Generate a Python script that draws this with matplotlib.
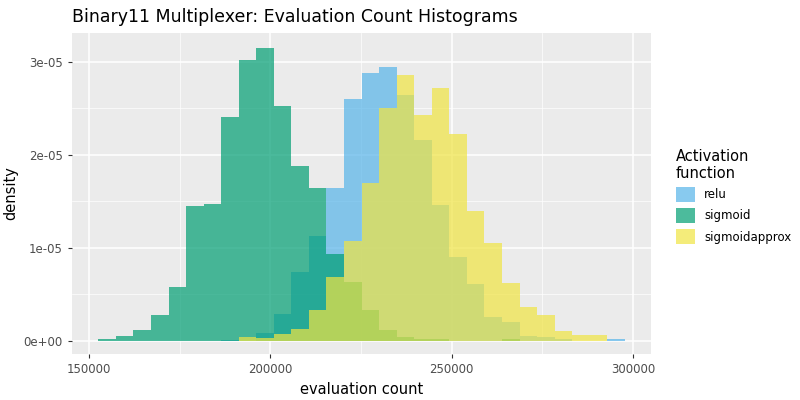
import numpy as np
import matplotlib
matplotlib.use("Agg")
import matplotlib.pyplot as plt
from matplotlib.patches import Patch

start = 152570
binw = 4840
relu = [0,0,0,0,0,0,0,0.01,0,0.086,0.29,0.74,1.13,1.64,2.60,2.88,2.94,2.64,2.16,1.46,0.90,0.61,0.26,0.20,0.054,0.043,0.02,0,0,0.02]
sigmoid = [0.021,0.047,0.12,0.28,0.58,1.45,1.475,2.41,3.02,3.15,2.53,1.88,1.64,0.93,0.63,0.33,0.12,0.043,0.02,0.02,0,0,0,0.02,0,0,0,0,0,0]
sigapprox = [0,0,0,0,0,0,0,0,0.043,0.03,0.075,0.13,0.33,0.68,1.07,1.70,2.50,2.86,2.43,2.72,2.22,1.39,1.05,0.62,0.36,0.28,0.107,0.064,0.064,0]
names = ["relu", "sigmoid", "sigmoidapprox"]
colors = ["#56B4E9", "#009E73", "#F0E442"]

fig = plt.figure(figsize=(8, 4), dpi=100)
ax = fig.add_axes([72/800, 1-354/400, (651-72)/800, (354-33)/400])
ax.set_facecolor("#EBEBEB")
lefts = start + binw*np.arange(30)
for vals, c in zip([relu, sigmoid, sigapprox], colors):
    ax.bar(lefts, np.array(vals)*1e-5, width=binw, align="edge", color=c, alpha=0.7, linewidth=0, zorder=3)
ax.set_xlim(145300, 305000)
ax.set_ylim(-0.143e-5, 3.31e-5)
ax.set_xticks([150000, 200000, 250000, 300000])
ax.set_xticklabels(["150000", "200000", "250000", "300000"])
ax.set_yticks([0, 1e-5, 2e-5, 3e-5])
ax.set_yticklabels(["0e+00", "1e-05", "2e-05", "3e-05"])
ax.set_xticks([175000, 225000, 275000], minor=True)
ax.set_yticks([0.5e-5, 1.5e-5, 2.5e-5], minor=True)
ax.grid(True, which="major", color="white", linewidth=1.1, zorder=0)
ax.grid(True, which="minor", color="white", linewidth=0.5, zorder=0)
for s in ax.spines.values():
    s.set_visible(False)
ax.tick_params(which="major", colors="#333333", labelsize=8.5, length=3, labelcolor="#4D4D4D")
ax.tick_params(which="minor", length=0)
ax.set_axisbelow(True)
ax.set_xlabel("evaluation count", fontsize=10.5, color="black")
ax.set_ylabel("density", fontsize=10.5, color="black")
fig.text(72/800, 1-17/400, "Binary11 Multiplexer: Evaluation Count Histograms", fontsize=12.5, va="center", ha="left")
handles = [Patch(facecolor=c, alpha=0.7, edgecolor="none") for c in colors]
fig.legend(handles, names, title="Activation\nfunction", loc="upper left", bbox_to_anchor=(665/800, 1-138/400),
           frameon=False, fontsize=8.5, title_fontsize=10.5, handlelength=1.6, handleheight=1.6, alignment="left")
fig.savefig("out.png", dpi=100)
